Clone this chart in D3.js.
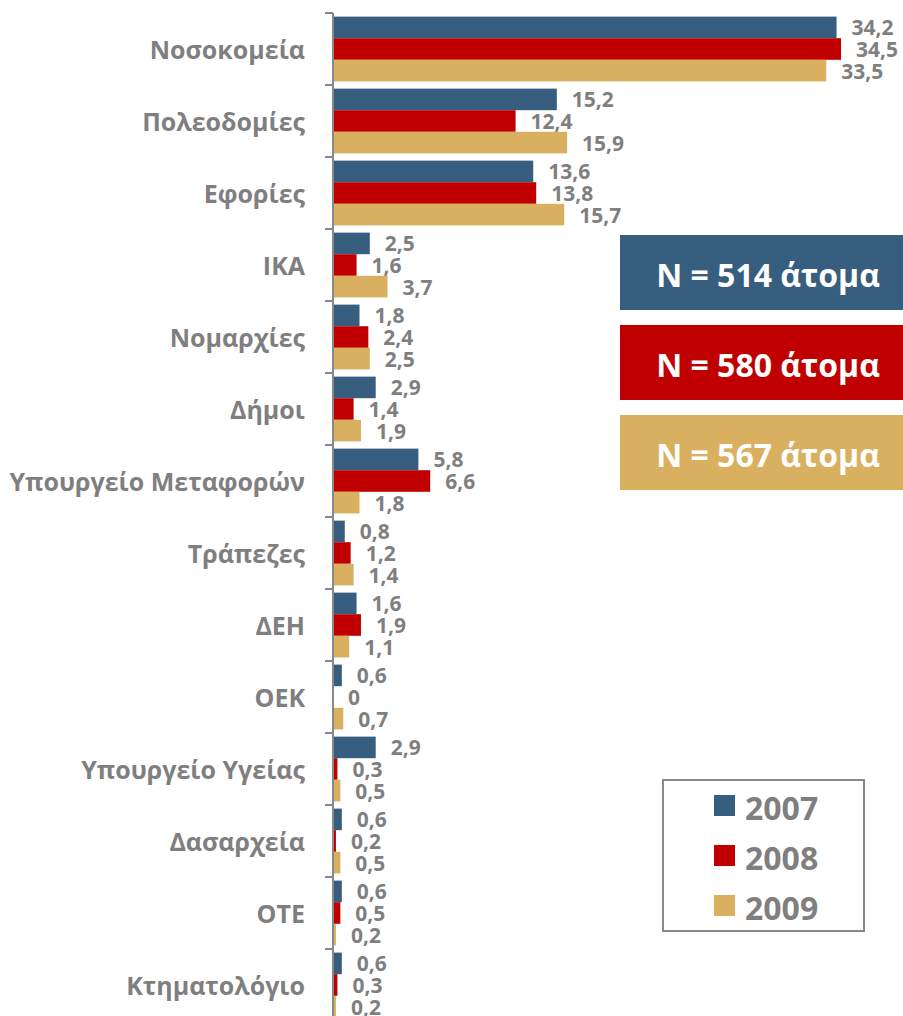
<!DOCTYPE html>
<html>
<head>
<meta charset="utf-8">
<script src="https://cdn.jsdelivr.net/npm/d3@7"></script>
<style>
  body { margin: 0; background: #fff; }
  text { font-family: "Open Sans", sans-serif; font-weight: bold; }
</style>
</head>
<body>
<svg id="chart" width="903" height="1016"></svg>
<script>
// κατηγορίες υπηρεσιών
const categories = ['Νοσοκομεία', 'Πολεοδομίες', 'Εφορίες', 'ΙΚΑ', 'Νομαρχίες', 'Δήμοι', 'Υπουργείο Μεταφορών',
    'Τράπεζες', 'ΔΕΗ', 'ΟΕΚ', 'Υπουργείο Υγείας', 'Δασαρχεία', 'ΟΤΕ', 'Κτηματολόγιο']
const years = ['2007', '2008', '2009']
const v2007 = [34.2, 15.2, 13.6, 2.5, 1.8, 2.9, 5.8, 0.8, 1.6, 0.6, 2.9, 0.6, 0.6, 0.6]
const v2008 = [34.5, 12.4, 13.8, 1.6, 2.4, 1.4, 6.6, 1.2, 1.9, 0, 0.3, 0.2, 0.5, 0.3]
const v2009 = [33.5, 15.9, 15.7, 3.7, 2.5, 1.9, 1.8, 1.4, 1.1, 0.7, 0.5, 0.5, 0.2, 0.2]
const sampleLabels = ['N = 514 άτομα', 'N = 580 άτομα', 'N = 567 άτομα']

const colors = { '2007': '#375E7F', '2008': '#C00000', '2009': '#D9B05F' }
const grey = '#7F7F7F'

const svg = d3.select('#chart')

const x = d3.scaleLinear().domain([0, 34.5]).range([333, 841])
const y = d3.scaleBand().domain(categories).range([13, 1021]).paddingInner(0.1).paddingOuter(0.05)
const yInner = d3.scaleBand().domain(years).range([0, y.bandwidth()])

const rows = categories.map((c, i) => ({
    name: c,
    values: [
        { year: '2007', v: v2007[i] },
        { year: '2008', v: v2008[i] },
        { year: '2009', v: v2009[i] }
    ]
}))

// ομάδες ανά κατηγορία
const groups = svg.append('g').selectAll('g').data(rows).join('g')
    .attr('transform', (d) => `translate(0, ${y(d.name)})`)

groups.selectAll('rect').data((d) => d.values).join('rect')
    .attr('x', x(0))
    .attr('y', (d) => yInner(d.year))
    .attr('width', (d) => x(d.v) - x(0))
    .attr('height', yInner.bandwidth())
    .attr('fill', (d) => colors[d.year])

// ετικέτες τιμών
groups.selectAll('text.val').data((d) => d.values).join('text')
    .attr('class', 'val')
    .attr('x', (d) => x(d.v) + 15)
    .attr('y', (d) => yInner(d.year) + yInner.bandwidth() / 2)
    .attr('dominant-baseline', 'central')
    .attr('font-size', '21px')
    .attr('fill', grey)
    .text((d) => String(d.v).replace('.', ','))

// ονόματα κατηγοριών
svg.append('g').selectAll('text').data(categories).join('text')
    .attr('x', 305)
    .attr('y', (d) => y(d) + y.bandwidth() / 2)
    .attr('text-anchor', 'end')
    .attr('dominant-baseline', 'central')
    .attr('font-size', '25px')
    .attr('fill', grey)
    .text((d) => d)

// άξονας
const half = (y.step() - y.bandwidth()) / 2
const tickYs = categories.map((c) => y(c) - half).concat([y(categories[categories.length - 1]) + y.bandwidth() + half])
const axis = svg.append('g').attr('stroke', '#888').attr('stroke-width', 2)
axis.append('line').attr('x1', x(0)).attr('x2', x(0)).attr('y1', tickYs[0]).attr('y2', 1016)
axis.selectAll('line.tick').data(tickYs).join('line')
    .attr('class', 'tick')
    .attr('x1', x(0) - 8).attr('x2', x(0))
    .attr('y1', (d) => d).attr('y2', (d) => d)

// πλαίσια δείγματος
const nBox = svg.append('g').selectAll('g').data(years).join('g')
    .attr('transform', (d, i) => `translate(620, ${235 + i * 90})`)
nBox.append('rect').attr('width', 290).attr('height', 75).attr('fill', (d) => colors[d])
nBox.append('text')
    .attr('x', 148).attr('y', 39)
    .attr('text-anchor', 'middle')
    .attr('dominant-baseline', 'central')
    .attr('font-size', '32px')
    .attr('fill', 'white')
    .text((d, i) => sampleLabels[i])

// υπόμνημα
const legend = svg.append('g').attr('transform', 'translate(663, 780)')
legend.append('rect').attr('width', 201).attr('height', 151)
    .attr('fill', 'white').attr('stroke', '#888').attr('stroke-width', 2)
const items = legend.selectAll('g').data(years).join('g')
    .attr('transform', (d, i) => `translate(51, ${26 + i * 50})`)
items.append('rect').attr('y', -11).attr('width', 21).attr('height', 21).attr('fill', (d) => colors[d])
items.append('text')
    .attr('x', 31).attr('y', 1)
    .attr('dominant-baseline', 'central')
    .attr('font-size', '32px')
    .attr('fill', grey)
    .text((d) => d)
</script>
</body>
</html>
